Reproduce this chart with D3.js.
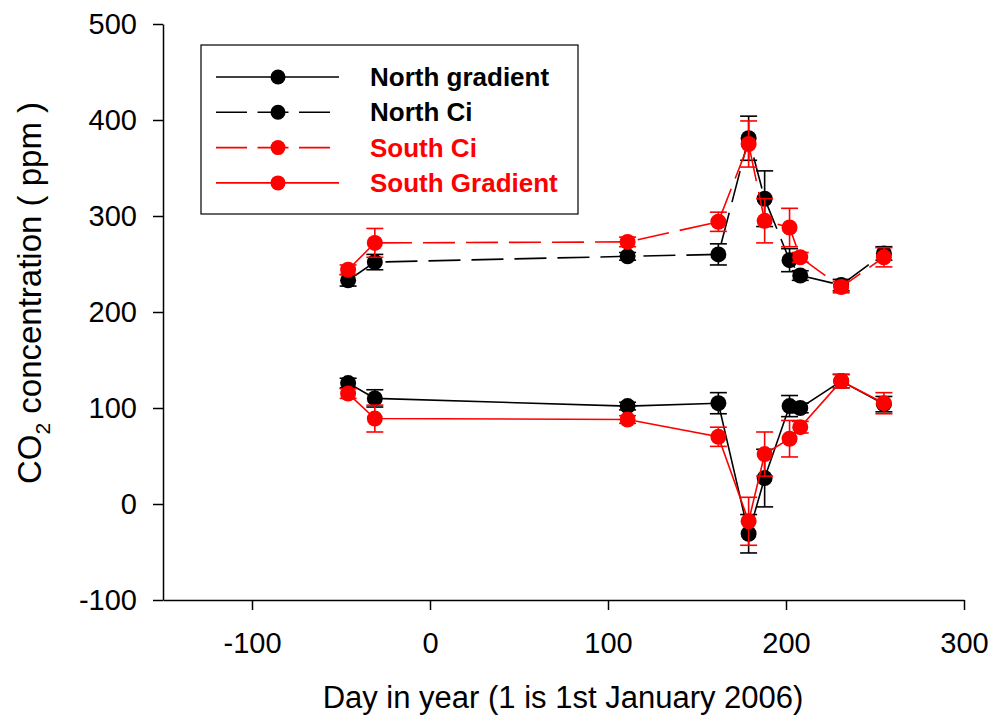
<!DOCTYPE html>
<html>
<head>
<meta charset="utf-8">
<script src="https://cdn.jsdelivr.net/npm/d3@7"></script>
<style>
  html, body { margin: 0; padding: 0; background: #fff; }
  svg { display: block; font-family: "Liberation Sans", Arial, sans-serif; }
</style>
</head>
<body>
<svg id="chart" width="995" height="717"></svg>
<script>
// Sampling days (1 = 1st January 2006)
const days = [-46, -31, 111, 162, 179, 188, 202, 208, 231, 255];

// CO2 concentration (ppm) and standard errors per series
const northGradient    = [126, 110, 102, 105, -31, 27, 102, 100, 128, 104];
const northGradientErr = [5, 9, 4, 11, 20, 30, 11, 5, 7, 8];
const northCi          = [233, 252, 258, 260, 381, 318, 254, 238, 228, 261];
const northCiErr       = [6, 8, 4, 11, 23, 29, 12, 5, 6, 7];
const southCi          = [244, 272, 273, 294, 375, 295, 288, 257, 226, 257];
const southCiErr       = [5, 15, 5, 10, 24, 23, 20, 5, 6, 10];
const southGradient    = [115, 89, 88, 70, -18, 52, 68, 80, 128, 105];
const southGradientErr = [5, 14, 4, 10, 25, 23, 19, 6, 7, 11];

const xTicks = [-100, 0, 100, 200, 300];
const yTicks = [-100, 0, 100, 200, 300, 400, 500];

const series = [
  { name: "North gradient", values: northGradient, err: northGradientErr, color: "#000000", dashed: false },
  { name: "North Ci",       values: northCi,       err: northCiErr,       color: "#000000", dashed: true },
  { name: "South Ci",       values: southCi,       err: southCiErr,       color: "#ff0000", dashed: true },
  { name: "South Gradient", values: southGradient, err: southGradientErr, color: "#ff0000", dashed: false }
];

const svg = d3.select("#chart");
const plotLeft = 163, plotRight = 964, plotTop = 24, plotBottom = 600;

const x = d3.scaleLinear().domain([-150, 300]).range([plotLeft, plotRight]);
const y = d3.scaleLinear().domain([-100, 500]).range([plotBottom, plotTop]);

const DASH = "32,11";
const R = 8, CAP = 8.5, LW = 1.6;
const plain = d => String(d);   // keep an ASCII hyphen for negatives

// Axes
const xAxis = svg.append("g")
  .attr("transform", `translate(0,${plotBottom})`)
  .call(d3.axisBottom(x).tickValues(xTicks).tickFormat(plain)
    .tickSize(10).tickSizeOuter(0).tickPadding(22));
const yAxis = svg.append("g")
  .attr("transform", `translate(${plotLeft},0)`)
  .call(d3.axisLeft(y).tickValues(yTicks).tickFormat(plain)
    .tickSize(10).tickSizeOuter(0).tickPadding(16));
[xAxis, yAxis].forEach(g => {
  g.selectAll("path.domain").attr("stroke", "#000").attr("stroke-width", 1.5);
  g.selectAll(".tick line").attr("stroke", "#000").attr("stroke-width", 1.5);
  g.selectAll(".tick text").attr("fill", "#000").style("font-size", "29px")
    .style("font-family", "'Liberation Sans', Arial, sans-serif");
});

// Axis titles
svg.append("text")
  .attr("x", 563).attr("y", 708)
  .attr("text-anchor", "middle")
  .style("font-size", "31px")
  .text("Day in year (1 is 1st January 2006)");

const yt = svg.append("text")
  .attr("transform", "translate(41,293) rotate(-90)")
  .attr("text-anchor", "middle")
  .style("font-size", "33px");
yt.append("tspan").text("CO");
yt.append("tspan").attr("dy", 9).style("font-size", "21px").text("2");
yt.append("tspan").attr("dy", -9).text(" concentration ( ppm )");

// Series
const plot = svg.append("g");
series.forEach(s => {
  const pts = days.map((d, i) => ({ d, v: s.values[i], e: s.err[i] }));
  const g = plot.append("g");
  g.append("path")
    .datum(pts)
    .attr("fill", "none")
    .attr("stroke", s.color)
    .attr("stroke-width", LW)
    .attr("stroke-dasharray", s.dashed ? DASH : null)
    .attr("d", d3.line().x(p => x(p.d)).y(p => y(p.v)));

  const eb = g.selectAll("g.err").data(pts).join("g")
    .attr("stroke", s.color).attr("stroke-width", LW);
  eb.append("line")
    .attr("x1", p => x(p.d)).attr("x2", p => x(p.d))
    .attr("y1", p => y(p.v - p.e)).attr("y2", p => y(p.v + p.e));
  eb.append("line")
    .attr("x1", p => x(p.d) - CAP).attr("x2", p => x(p.d) + CAP)
    .attr("y1", p => y(p.v + p.e)).attr("y2", p => y(p.v + p.e));
  eb.append("line")
    .attr("x1", p => x(p.d) - CAP).attr("x2", p => x(p.d) + CAP)
    .attr("y1", p => y(p.v - p.e)).attr("y2", p => y(p.v - p.e));

  g.selectAll("circle").data(pts).join("circle")
    .attr("cx", p => x(p.d)).attr("cy", p => y(p.v))
    .attr("r", R).attr("fill", s.color);
});

// Legend
const lg = svg.append("g");
lg.append("rect")
  .attr("x", 201).attr("y", 45).attr("width", 377).attr("height", 169)
  .attr("fill", "#fff").attr("stroke", "#000").attr("stroke-width", 1.2);
series.forEach((s, i) => {
  const ry = 77 + i * 35.3;
  lg.append("line")
    .attr("x1", 216).attr("x2", 339).attr("y1", ry).attr("y2", ry)
    .attr("stroke", s.color).attr("stroke-width", LW)
    .attr("stroke-dasharray", s.dashed ? "31,10.5" : null);
  lg.append("circle").attr("cx", 278).attr("cy", ry).attr("r", 7.5).attr("fill", s.color);
  lg.append("text")
    .attr("x", 370).attr("y", ry + 9)
    .attr("fill", s.color)
    .style("font-size", "26px").style("font-weight", "bold")
    .text(s.name);
});
</script>
</body>
</html>
